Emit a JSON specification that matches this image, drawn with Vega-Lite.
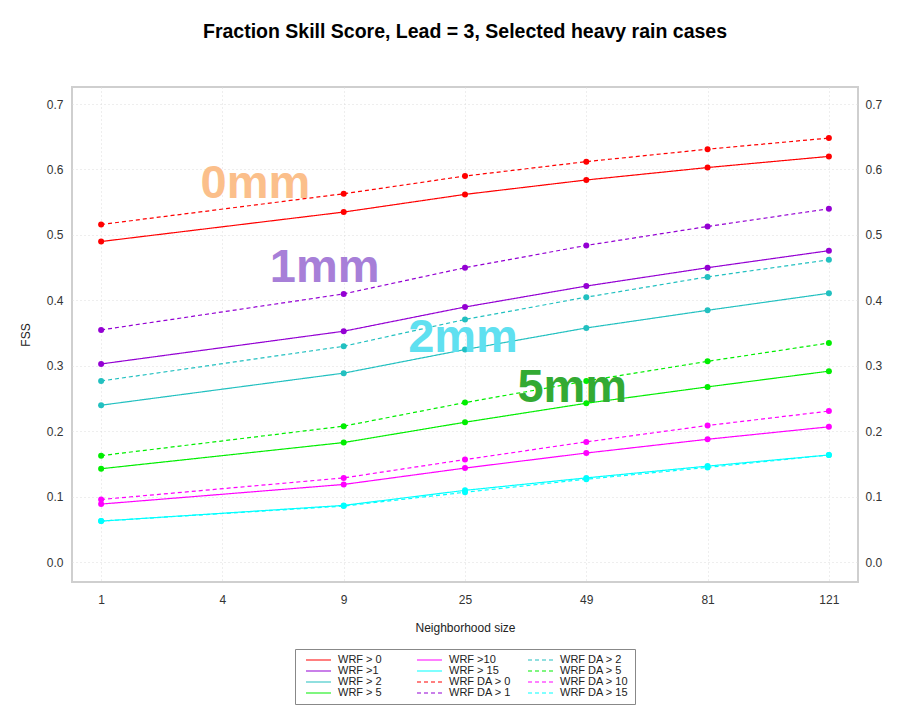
{
  "$schema": "https://vega.github.io/schema/vega-lite/v6.json",
  "autosize": "none",
  "width": 786,
  "height": 495,
  "padding": {"left": 72, "top": 87, "right": 65, "bottom": 132},
  "background": "white",
  "title": {"text": "Fraction Skill Score, Lead = 3, Selected heavy rain cases", "font": "Liberation Sans", "fontSize": 19.5, "fontWeight": "bold", "color": "#000", "anchor": "middle", "offset": 45},
  "datasets": {
    "fss": [
      {"series": "WRF > 0", "n": 1, "fss": 0.490}, {"series": "WRF > 0", "n": 9, "fss": 0.535}, {"series": "WRF > 0", "n": 25, "fss": 0.562}, {"series": "WRF > 0", "n": 49, "fss": 0.584}, {"series": "WRF > 0", "n": 81, "fss": 0.603}, {"series": "WRF > 0", "n": 121, "fss": 0.620},
      {"series": "WRF >1", "n": 1, "fss": 0.303}, {"series": "WRF >1", "n": 9, "fss": 0.353}, {"series": "WRF >1", "n": 25, "fss": 0.390}, {"series": "WRF >1", "n": 49, "fss": 0.422}, {"series": "WRF >1", "n": 81, "fss": 0.450}, {"series": "WRF >1", "n": 121, "fss": 0.476},
      {"series": "WRF > 2", "n": 1, "fss": 0.240}, {"series": "WRF > 2", "n": 9, "fss": 0.289}, {"series": "WRF > 2", "n": 25, "fss": 0.325}, {"series": "WRF > 2", "n": 49, "fss": 0.358}, {"series": "WRF > 2", "n": 81, "fss": 0.385}, {"series": "WRF > 2", "n": 121, "fss": 0.411},
      {"series": "WRF > 5", "n": 1, "fss": 0.143}, {"series": "WRF > 5", "n": 9, "fss": 0.183}, {"series": "WRF > 5", "n": 25, "fss": 0.214}, {"series": "WRF > 5", "n": 49, "fss": 0.243}, {"series": "WRF > 5", "n": 81, "fss": 0.268}, {"series": "WRF > 5", "n": 121, "fss": 0.292},
      {"series": "WRF >10", "n": 1, "fss": 0.089}, {"series": "WRF >10", "n": 9, "fss": 0.119}, {"series": "WRF >10", "n": 25, "fss": 0.144}, {"series": "WRF >10", "n": 49, "fss": 0.167}, {"series": "WRF >10", "n": 81, "fss": 0.188}, {"series": "WRF >10", "n": 121, "fss": 0.207},
      {"series": "WRF > 15", "n": 1, "fss": 0.063}, {"series": "WRF > 15", "n": 9, "fss": 0.087}, {"series": "WRF > 15", "n": 25, "fss": 0.110}, {"series": "WRF > 15", "n": 49, "fss": 0.129}, {"series": "WRF > 15", "n": 81, "fss": 0.147}, {"series": "WRF > 15", "n": 121, "fss": 0.164},
      {"series": "WRF DA > 0", "n": 1, "fss": 0.516}, {"series": "WRF DA > 0", "n": 9, "fss": 0.563}, {"series": "WRF DA > 0", "n": 25, "fss": 0.590}, {"series": "WRF DA > 0", "n": 49, "fss": 0.612}, {"series": "WRF DA > 0", "n": 81, "fss": 0.631}, {"series": "WRF DA > 0", "n": 121, "fss": 0.648},
      {"series": "WRF DA > 1", "n": 1, "fss": 0.355}, {"series": "WRF DA > 1", "n": 9, "fss": 0.410}, {"series": "WRF DA > 1", "n": 25, "fss": 0.450}, {"series": "WRF DA > 1", "n": 49, "fss": 0.484}, {"series": "WRF DA > 1", "n": 81, "fss": 0.513}, {"series": "WRF DA > 1", "n": 121, "fss": 0.540},
      {"series": "WRF DA > 2", "n": 1, "fss": 0.277}, {"series": "WRF DA > 2", "n": 9, "fss": 0.330}, {"series": "WRF DA > 2", "n": 25, "fss": 0.371}, {"series": "WRF DA > 2", "n": 49, "fss": 0.405}, {"series": "WRF DA > 2", "n": 81, "fss": 0.436}, {"series": "WRF DA > 2", "n": 121, "fss": 0.462},
      {"series": "WRF DA > 5", "n": 1, "fss": 0.163}, {"series": "WRF DA > 5", "n": 9, "fss": 0.208}, {"series": "WRF DA > 5", "n": 25, "fss": 0.244}, {"series": "WRF DA > 5", "n": 49, "fss": 0.277}, {"series": "WRF DA > 5", "n": 81, "fss": 0.307}, {"series": "WRF DA > 5", "n": 121, "fss": 0.335},
      {"series": "WRF DA > 10", "n": 1, "fss": 0.096}, {"series": "WRF DA > 10", "n": 9, "fss": 0.129}, {"series": "WRF DA > 10", "n": 25, "fss": 0.157}, {"series": "WRF DA > 10", "n": 49, "fss": 0.184}, {"series": "WRF DA > 10", "n": 81, "fss": 0.209}, {"series": "WRF DA > 10", "n": 121, "fss": 0.231},
      {"series": "WRF DA > 15", "n": 1, "fss": 0.063}, {"series": "WRF DA > 15", "n": 9, "fss": 0.086}, {"series": "WRF DA > 15", "n": 25, "fss": 0.107}, {"series": "WRF DA > 15", "n": 49, "fss": 0.127}, {"series": "WRF DA > 15", "n": 81, "fss": 0.145}, {"series": "WRF DA > 15", "n": 121, "fss": 0.164}
    ]
  },
  "encoding": {
    "x": {"field": "n", "type": "ordinal", "scale": {"type": "point", "domain": [1, 4, 9, 25, 49, 81, 121], "padding": 0.24},
          "axis": {"title": "Neighborhood size", "labelAngle": 0, "grid": true, "domain": false, "tickSize": 0, "labelPadding": 12, "titlePadding": 17}}
  },
  "resolve": {"axis": {"y": "independent"}},
  "layer": [
    {
      "data": {"name": "fss"},
      "mark": {"type": "line", "strokeWidth": 1.2},
      "encoding": {
        "y": {"field": "fss", "type": "quantitative", "scale": {"domain": [-0.03, 0.726], "nice": false, "zero": false},
              "axis": {"title": "FSS", "values": [0, 0.1, 0.2, 0.3, 0.4, 0.5, 0.6, 0.7], "format": ".1f", "grid": true, "domain": false, "tickSize": 0, "labelPadding": 9, "titlePadding": 14}},
        "color": {"field": "series", "type": "nominal",
                  "scale": {"domain": ["WRF > 0", "WRF >1", "WRF > 2", "WRF > 5", "WRF >10", "WRF > 15", "WRF DA > 0", "WRF DA > 1", "WRF DA > 2", "WRF DA > 5", "WRF DA > 10", "WRF DA > 15"],
                            "range": ["#ff0000", "#9400d3", "#22c0c0", "#00ee00", "#ff00ff", "#00ffff", "#ff0000", "#9400d3", "#22c0c0", "#00ee00", "#ff00ff", "#00ffff"]},
                  "legend": {"orient": "none", "legendX": 223, "legendY": 562, "columns": 3, "title": null, "symbolType": "stroke", "symbolSize": 625, "clipHeight": 10, "symbolStrokeWidth": 1.2, "labelFontSize": 11, "labelFont": "Liberation Sans", "labelColor": "#222", "strokeColor": "#888", "fillColor": "white", "padding": 6, "symbolOffset": 4, "gridAlign": "all", "columnPadding": 5, "rowPadding": 0, "labelOffset": 6}},
        "strokeDash": {"field": "series", "type": "nominal",
                  "scale": {"domain": ["WRF > 0", "WRF >1", "WRF > 2", "WRF > 5", "WRF >10", "WRF > 15", "WRF DA > 0", "WRF DA > 1", "WRF DA > 2", "WRF DA > 5", "WRF DA > 10", "WRF DA > 15"],
                            "range": [[1, 0], [1, 0], [1, 0], [1, 0], [1, 0], [1, 0], [4, 3], [4, 3], [4, 3], [4, 3], [4, 3], [4, 3]]},
                  "legend": {"orient": "none", "legendX": 223, "legendY": 562, "columns": 3, "title": null, "symbolType": "stroke", "symbolSize": 625, "clipHeight": 10, "symbolStrokeWidth": 1.2, "labelFontSize": 11, "labelFont": "Liberation Sans", "labelColor": "#222", "strokeColor": "#888", "fillColor": "white", "padding": 6, "symbolOffset": 4, "gridAlign": "all", "columnPadding": 5, "rowPadding": 0, "labelOffset": 6}}
      }
    },
    {
      "data": {"name": "fss"},
      "mark": {"type": "point", "filled": true, "size": 36, "opacity": 1},
      "encoding": {
        "y": {"field": "fss", "type": "quantitative",
              "axis": {"orient": "right", "title": null, "values": [0, 0.1, 0.2, 0.3, 0.4, 0.5, 0.6, 0.7], "format": ".1f", "grid": false, "domain": false, "tickSize": 0, "labelPadding": 7}},
        "color": {"field": "series", "type": "nominal", "legend": null}
      }
    },
    {
      "data": {"values": [{"label": "0mm", "n": 4, "fss": 0.556}]},
      "mark": {"type": "text", "font": "Liberation Sans", "fontWeight": "bold", "fontSize": 47, "color": "#fbbf8b", "baseline": "alphabetic", "align": "center", "dx": 33},
      "encoding": {"y": {"field": "fss", "type": "quantitative", "axis": null}, "text": {"field": "label"}}
    },
    {
      "data": {"values": [{"label": "1mm", "n": 9, "fss": 0.428}]},
      "mark": {"type": "text", "font": "Liberation Sans", "fontWeight": "bold", "fontSize": 47, "color": "#a77fd8", "baseline": "alphabetic", "align": "center", "dx": -19},
      "encoding": {"y": {"field": "fss", "type": "quantitative", "axis": null}, "text": {"field": "label"}}
    },
    {
      "data": {"values": [{"label": "2mm", "n": 25, "fss": 0.321}]},
      "mark": {"type": "text", "font": "Liberation Sans", "fontWeight": "bold", "fontSize": 47, "color": "#5fe0f0", "baseline": "alphabetic", "align": "center", "dx": -2},
      "encoding": {"y": {"field": "fss", "type": "quantitative", "axis": null}, "text": {"field": "label"}}
    },
    {
      "data": {"values": [{"label": "5mm", "n": 49, "fss": 0.245}]},
      "mark": {"type": "text", "font": "Liberation Sans", "fontWeight": "bold", "fontSize": 47, "color": "#33aa33", "baseline": "alphabetic", "align": "center", "dx": -14},
      "encoding": {"y": {"field": "fss", "type": "quantitative", "axis": null}, "text": {"field": "label"}}
    }
  ],
  "config": {
    "font": "Liberation Sans",
    "view": {"stroke": "#cfcfcf", "strokeWidth": 2},
    "axis": {"labelFont": "Liberation Sans", "labelFontSize": 12, "labelColor": "#333", "titleFont": "Liberation Sans", "titleFontSize": 12, "titleFontWeight": "normal", "titleColor": "#222", "gridColor": "#dddddd", "gridDash": [1, 3], "gridWidth": 1}
  }
}
